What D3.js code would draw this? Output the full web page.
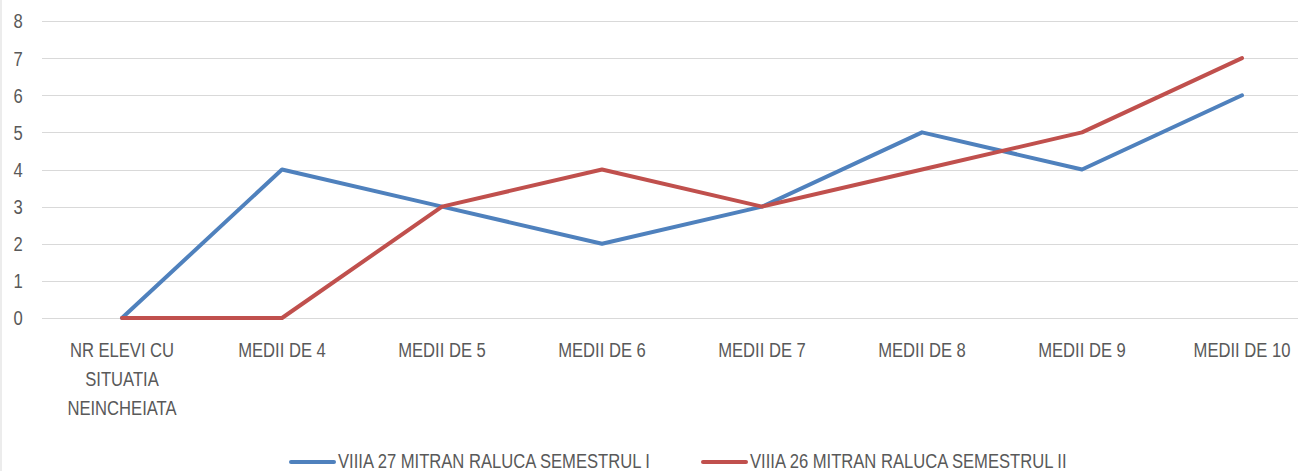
<!DOCTYPE html>
<html lang="en">
<head>
    <meta charset="UTF-8">
    <title>Medii</title>
    <style>
        body { margin: 0; padding: 0; overflow: hidden; background: #fff; }
        svg { display: block; }
        .lbl { font-family: "Liberation Sans Narrow", "Liberation Sans", Arial, sans-serif; fill: #595959; font-size: 20.5px; }
    </style>
    <script src="https://d3js.org/d3.v7.min.js"></script>
</head>
<body>
    <div id="chart"></div>
    <script>
        // chart data
        const categories = [
            'NR ELEVI CU|SITUATIA|NEINCHEIATA', 'MEDII DE 4', 'MEDII DE 5', 'MEDII DE 6',
            'MEDII DE 7', 'MEDII DE 8', 'MEDII DE 9', 'MEDII DE 10'
        ];
        const sem1 = [0, 4, 3, 2, 3, 5, 4, 6];
        const sem2 = [0, 0, 3, 4, 3, 4, 5, 7];
        const seriesNames = ['VIIIA 27 MITRAN RALUCA SEMESTRUL I', 'VIIIA 26 MITRAN RALUCA SEMESTRUL II'];
        const colors = ['#4f81bd', '#c0504d'];
        const yTicks = [0, 1, 2, 3, 4, 5, 6, 7, 8];

        const width = 1298, height = 471;
        const squeeze = 0.81; // the original font is a condensed one

        const svg = d3.select('#chart').append('svg')
            .attr('width', width).attr('height', height);

        // light frame on the left
        svg.append('line')
            .attr('x1', 1).attr('x2', 1).attr('y1', 0).attr('y2', height)
            .attr('stroke', '#d9d9d9').attr('stroke-width', 1);

        const x = d3.scaleBand().domain(categories).range([42, 42 + 160 * categories.length]);
        const y = d3.scaleLinear().domain([0, 8]).range([318, 21]);
        const cx = d => x(d) + x.bandwidth() / 2;

        // gridlines
        svg.append('g').selectAll('line')
            .data(yTicks)
            .join('line')
            .attr('x1', 42).attr('x2', width)
            .attr('y1', d => Math.round(y(d)) + 0.5).attr('y2', d => Math.round(y(d)) + 0.5)
            .attr('stroke', '#d9d9d9').attr('stroke-width', 1.2);

        // y tick labels
        svg.append('g').selectAll('text')
            .data(yTicks)
            .join('text')
            .attr('class', 'lbl')
            .attr('transform', d => `translate(18,${y(d)}) scale(${squeeze},1)`)
            .attr('dy', '0.36em')
            .attr('text-anchor', 'middle')
            .text(d => d);

        // category labels (wrapped on |)
        const catText = svg.append('g').selectAll('text')
            .data(categories)
            .join('text')
            .attr('class', 'lbl')
            .attr('transform', d => `translate(${cx(d)},357) scale(${squeeze},1)`)
            .attr('text-anchor', 'middle');
        catText.selectAll('tspan')
            .data(d => d.split('|'))
            .join('tspan')
            .attr('x', 0)
            .attr('dy', (d, i) => i === 0 ? 0 : 29)
            .text(d => d);

        // lines
        const line = d3.line()
            .x((d, i) => cx(categories[i]))
            .y(d => y(d));

        [sem1, sem2].forEach((s, k) => {
            svg.append('path')
                .datum(s)
                .attr('d', line)
                .attr('fill', 'none')
                .attr('stroke', colors[k])
                .attr('stroke-width', 4)
                .attr('stroke-linecap', 'round')
                .attr('stroke-linejoin', 'round');
        });

        // legend
        const legendX = [291, 703];
        seriesNames.forEach((name, k) => {
            const g = svg.append('g').attr('transform', `translate(${legendX[k]},462)`);
            g.append('line')
                .attr('x1', 0).attr('x2', 43).attr('y1', 0).attr('y2', 0)
                .attr('stroke', colors[k]).attr('stroke-width', 4)
                .attr('stroke-linecap', 'round');
            g.append('text')
                .attr('class', 'lbl')
                .attr('transform', `translate(47,6) scale(${squeeze},1)`)
                .text(name);
        });
    </script>
</body>
</html>
